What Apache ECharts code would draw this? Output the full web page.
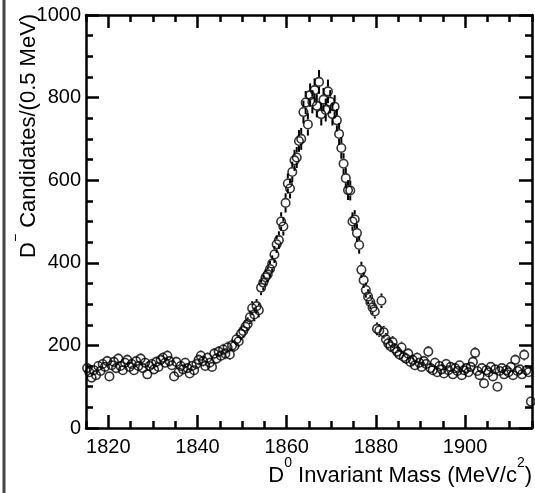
<!DOCTYPE html>
<html>
<head>
<meta charset="utf-8">
<script src="https://cdn.jsdelivr.net/npm/echarts@6/dist/echarts.min.js"></script>
<style>
  html, body { margin: 0; padding: 0; background: #fff; }
  #main { width: 535px; height: 493px; }
</style>
</head>
<body>
<div id="main"></div>
<script>
// 数据：每 0.5 MeV 一个 bin
var massStart = 1815;
var binWidth = 0.5;
var counts = [
  145, 135, 122, 140, 128, 150, 138, 155, 148, 162,
  125, 152, 160, 145, 168, 150, 140, 158, 165, 148,
  155, 140, 162, 150, 168, 145, 158, 130, 150, 155,
  142, 160, 148, 165, 170, 158, 175, 162, 152, 125,
  160, 135, 150, 142, 158, 145, 132, 150, 140, 155,
  165, 175, 162, 150, 170, 158, 148, 180, 168, 185,
  175, 190, 180, 195, 178, 200, 198, 215, 210, 228,
  235, 245, 252, 268, 290, 275, 295, 285, 340, 352,
  365, 372, 385, 398, 420, 445, 455, 500, 488, 545,
  592, 580, 620, 648, 655, 695, 700, 765, 788, 735,
  806, 790, 818, 780, 838, 760, 795, 770, 815, 790,
  760, 778, 745, 712, 678, 640, 605, 576, 575, 500,
  505, 472, 443, 383, 358, 334, 318, 305, 292, 282,
  240, 236, 308, 232, 215, 205, 198, 208, 192, 185,
  178, 195, 172, 168, 180, 160, 165, 152, 170, 158,
  148, 162, 155, 185, 145, 140, 158, 135, 150, 142,
  132, 155, 140, 148, 130, 145, 138, 152, 128, 140,
  145, 135, 148, 160, 182, 138, 128, 145, 108, 140,
  135, 148, 125, 142, 100, 138, 145, 130, 140, 135,
  148, 128, 165, 138, 142, 130, 177, 140, 135, 64
];
var xRange = [1815, 1915];
var xLabelRange = [1820, 1900];
var yRange = [0, 1000];

var fontName = 'Liberation Sans, Arial, sans-serif';

// bin 中心、计数、统计误差 sqrt(N)
var points = counts.map(function (c, i) {
    return [massStart + binWidth * (i + 0.5), c, Math.sqrt(c)];
});

var chart = echarts.init(document.getElementById('main'));

var frameLine = { show: true, onZero: false, lineStyle: { color: '#000', width: 2.5 } };
var tickStyle = { color: '#000', width: 2.5 };
var plain = function (v) { return String(v); };

var option = {
    animation: false,
    grid: [
        { left: 86, right: 3, top: 15, bottom: 65 },
        // 主刻度用的网格，x 方向与主网格同比例
        { left: 108.3, right: 69.9, top: 15, bottom: 65 }
    ],
    xAxis: [
        {   // 下方次刻度
            gridIndex: 0, type: 'value', position: 'bottom',
            min: xRange[0], max: xRange[1], interval: 5,
            axisLine: frameLine,
            axisTick: { show: true, inside: true, length: 7, lineStyle: tickStyle },
            axisLabel: { show: false },
            splitLine: { show: false }
        },
        {   // 上方次刻度
            gridIndex: 0, type: 'value', position: 'top',
            min: xRange[0], max: xRange[1], interval: 5,
            axisLine: frameLine,
            axisTick: { show: true, inside: true, length: 7, lineStyle: tickStyle },
            axisLabel: { show: false },
            splitLine: { show: false }
        },
        {   // 下方主刻度 + 标签
            gridIndex: 1, type: 'value', position: 'bottom',
            min: xLabelRange[0], max: xLabelRange[1], interval: 20,
            axisLine: { show: false, onZero: false },
            axisTick: { show: true, inside: true, length: 13, lineStyle: tickStyle },
            axisLabel: { show: true, color: '#000', fontSize: 20, fontFamily: fontName, margin: 9, formatter: plain },
            splitLine: { show: false }
        },
        {   // 上方主刻度
            gridIndex: 1, type: 'value', position: 'top',
            min: xLabelRange[0], max: xLabelRange[1], interval: 20,
            axisLine: { show: false, onZero: false },
            axisTick: { show: true, inside: true, length: 13, lineStyle: tickStyle },
            axisLabel: { show: false },
            splitLine: { show: false }
        }
    ],
    yAxis: [
        {
            gridIndex: 0, type: 'value', position: 'left',
            min: yRange[0], max: yRange[1], interval: 200,
            axisLine: frameLine,
            axisTick: { show: true, inside: true, length: 13, lineStyle: tickStyle },
            minorTick: { show: true, splitNumber: 4, length: 7, lineStyle: tickStyle },
            axisLabel: { show: true, color: '#000', fontSize: 20, fontFamily: fontName, margin: 5, formatter: plain },
            splitLine: { show: false }
        },
        {
            gridIndex: 0, type: 'value', position: 'right',
            min: yRange[0], max: yRange[1], interval: 200,
            axisLine: frameLine,
            axisTick: { show: true, inside: true, length: 13, lineStyle: tickStyle },
            minorTick: { show: true, splitNumber: 4, length: 7, lineStyle: tickStyle },
            axisLabel: { show: false },
            splitLine: { show: false }
        },
        {
            gridIndex: 1, type: 'value', show: false,
            min: yRange[0], max: yRange[1]
        }
    ],
    series: [
        {   // 误差棒
            type: 'custom',
            xAxisIndex: 0, yAxisIndex: 0,
            data: points,
            renderItem: function (params, api) {
                var x = api.value(0), y = api.value(1), e = api.value(2);
                var c = api.coord([x, y]);
                var hi = api.coord([x, y + e]);
                var lo = api.coord([x, y - e]);
                var r = 5;
                var kids = [];
                if (c[1] - r > hi[1]) {
                    kids.push({ type: 'line', shape: { x1: c[0], y1: hi[1], x2: c[0], y2: c[1] - r },
                        style: { stroke: '#000', lineWidth: 2 } });
                }
                if (lo[1] > c[1] + r) {
                    kids.push({ type: 'line', shape: { x1: c[0], y1: c[1] + r, x2: c[0], y2: lo[1] },
                        style: { stroke: '#000', lineWidth: 2 } });
                }
                return { type: 'group', children: kids };
            },
            z: 2
        },
        {
            type: 'scatter',
            xAxisIndex: 0, yAxisIndex: 0,
            data: points,
            symbol: 'circle',
            symbolSize: 8.5,
            itemStyle: { color: 'rgba(0,0,0,0)', borderColor: '#000', borderWidth: 1.6 },
            z: 3
        }
    ],
    graphic: [
        {   // 左侧边框
            type: 'line',
            shape: { x1: 4, y1: 0, x2: 4, y2: 493 },
            style: { stroke: '#444', lineWidth: 3 }
        },
        {   // y 轴标题
            type: 'text',
            x: 29, y: 258,
            rotation: Math.PI / 2,
            style: {
                text: '{a|D}{s|−}{a| Candidates/(0.5 MeV)}',
                align: 'left',
                verticalAlign: 'middle',
                rich: {
                    a: { fontSize: 22, fontFamily: fontName, fill: '#000' },
                    s: { fontSize: 14, fontFamily: fontName, fill: '#000', padding: [0, 0, 26, 0] }
                }
            }
        },
        {   // x 轴标题
            type: 'text',
            x: 532, y: 476,
            style: {
                text: '{a|D}{s|0}{a| Invariant Mass (MeV/c}{s|2}{a|)}',
                align: 'right',
                verticalAlign: 'middle',
                rich: {
                    a: { fontSize: 22, fontFamily: fontName, fill: '#000' },
                    s: { fontSize: 14, fontFamily: fontName, fill: '#000', padding: [0, 0, 26, 0] }
                }
            }
        }
    ]
};

chart.setOption(option);
</script>
</body>
</html>
